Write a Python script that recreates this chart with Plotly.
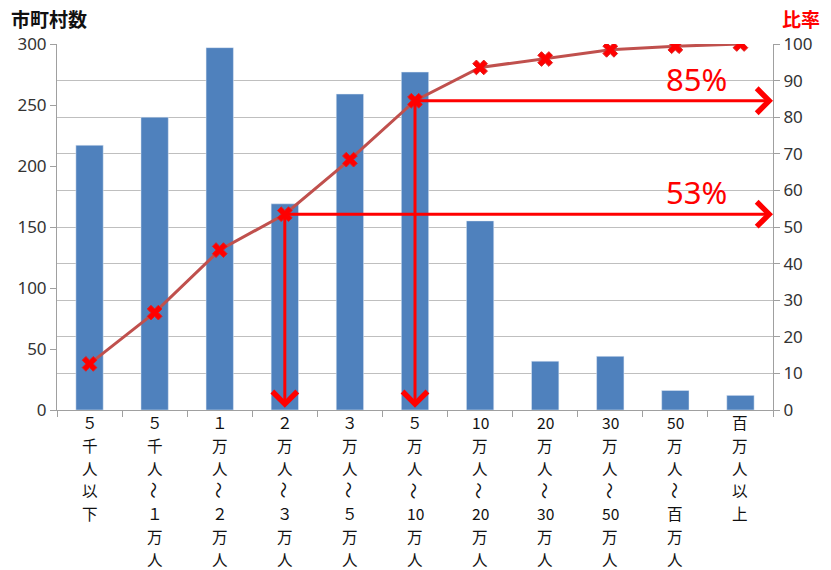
import plotly.graph_objects as go

WAVE = "～"
categories = [
    ["５", "千", "人", "以", "下"],
    ["５", "千", "人", WAVE, "１", "万", "人"],
    ["１", "万", "人", WAVE, "２", "万", "人"],
    ["２", "万", "人", WAVE, "３", "万", "人"],
    ["３", "万", "人", WAVE, "５", "万", "人"],
    ["５", "万", "人", WAVE, "10", "万", "人"],
    ["10", "万", "人", WAVE, "20", "万", "人"],
    ["20", "万", "人", WAVE, "30", "万", "人"],
    ["30", "万", "人", WAVE, "50", "万", "人"],
    ["50", "万", "人", WAVE, "百", "万", "人"],
    ["百", "万", "人", "以", "上"],
]
counts = [217, 240, 297, 169, 259, 277, 155, 40, 44, 16, 12]
ratios = [12.6, 26.6, 43.7, 53.5, 68.4, 84.5, 93.6, 95.9, 98.4, 99.4, 100]
left_ticks = [0, 50, 100, 150, 200, 250, 300]
right_ticks = [0, 10, 20, 30, 40, 50, 60, 70, 80, 90, 100]
highlight_idx = [3, 5]
highlight_text = ["53%", "85%"]

xs = list(range(len(categories)))
RED = "#FF0000"
GRID = "#BFBFBF"
AXIS = "#A0A0A0"
FONT = "Noto Sans CJK JP"

fig = go.Figure()
fig.add_trace(go.Bar(x=xs, y=counts, marker_color="#4F81BD", width=0.42, yaxis="y"))
fig.add_trace(go.Scatter(
    x=xs, y=ratios, yaxis="y2", mode="lines+markers",
    line=dict(color="#C0504D", width=3),
    marker=dict(symbol="x", size=13, color=RED, line=dict(color="#E02020", width=1)),
))

annotations = []
for idx, txt in zip(highlight_idx, highlight_text):
    r = ratios[idx]
    annotations.append(dict(
        x=len(categories) - 0.5, y=r, xref="x", yref="y2",
        ax=idx, ay=r, axref="x", ayref="y2",
        showarrow=True, arrowhead=4, arrowsize=1.6, arrowwidth=3,
        arrowcolor=RED, standoff=0, startstandoff=0, text="",
    ))
    annotations.append(dict(
        x=idx, y=0.6, xref="x", yref="y2",
        ax=idx, ay=r, axref="x", ayref="y2",
        showarrow=True, arrowhead=4, arrowsize=1.6, arrowwidth=3,
        arrowcolor=RED, standoff=0, startstandoff=0, text="",
    ))
    annotations.append(dict(
        x=9.33, y=r + 6.0, xref="x", yref="y2", text=txt, showarrow=False,
        font=dict(family="Noto Sans", size=31, color=RED), borderpad=0,
    ))

# vertical category labels, one character per line
for i, chars in enumerate(categories):
    for k, ch in enumerate(chars):
        is_wave = ch == WAVE
        annotations.append(dict(
            x=i, y=0, xref="x", yref="paper", yanchor="middle", xanchor="center",
            yshift=-(12 + 22.8 * k), text=ch, showarrow=False, borderpad=0,
            textangle=90 if is_wave else 0,
            font=dict(family=FONT, size=17 if is_wave else 15.6, color="#111111"),
        ))

annotations.append(dict(
    x=0, y=1, xref="paper", yref="paper", xanchor="left", yanchor="middle",
    xshift=-47, yshift=26, text="<b>市町村数</b>", showarrow=False, borderpad=0,
    font=dict(family=FONT, size=19, color="#111111"),
))
annotations.append(dict(
    x=1, y=1, xref="paper", yref="paper", xanchor="left", yanchor="middle",
    xshift=8, yshift=26, text="<b>比率</b>", showarrow=False, borderpad=0,
    font=dict(family=FONT, size=19, color=RED),
))

fig.update_layout(
    width=831, height=570,
    margin=dict(l=57, r=58, t=44, b=160),
    paper_bgcolor="white", plot_bgcolor="white",
    showlegend=False,
    font=dict(family=FONT, color="#222222"),
    xaxis=dict(
        range=[-0.5, len(categories) - 0.5],
        tickmode="array", tickvals=xs, ticktext=[""] * len(xs),
        ticks="", showgrid=False, showline=True, linecolor=AXIS, linewidth=1,
        minor=dict(tickvals=[i - 0.5 for i in range(len(categories) + 1)],
                   ticks="outside", ticklen=6, tickcolor=AXIS, showgrid=False),
        automargin=False, zeroline=False,
    ),
    yaxis=dict(
        range=[0, 300], tickmode="array", tickvals=left_ticks,
        showgrid=False, showline=True, linecolor=AXIS, linewidth=1,
        ticks="outside", ticklen=6, tickcolor=AXIS,
        tickfont=dict(family="Noto Sans", size=17, color="#333333"),
        zeroline=False, automargin=False,
    ),
    yaxis2=dict(
        range=[0, 100], tickmode="array", tickvals=right_ticks,
        overlaying="y", side="right",
        showgrid=True, gridcolor=GRID, gridwidth=1,
        showline=True, linecolor=AXIS, linewidth=1,
        ticks="outside", ticklen=6, tickcolor=AXIS,
        tickfont=dict(family="Noto Sans", size=17, color="#333333"),
        zeroline=False, automargin=False,
    ),
    annotations=annotations,
)

fig.write_html("out.html")
